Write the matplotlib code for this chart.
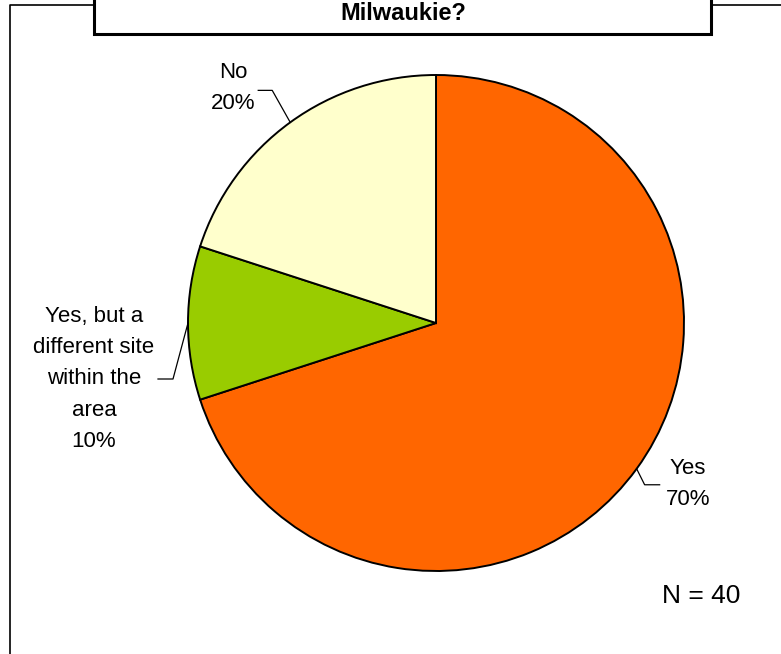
import numpy as np
import matplotlib.pyplot as plt
from matplotlib.patches import Rectangle

plt.rcParams['font.family'] = ['Liberation Sans', 'DejaVu Sans']

labels = ["Yes", "Yes, but a\ndifferent site\nwithin the\narea", "No"]
shares = [70, 10, 20]
colors = ["#FF6600", "#99CC00", "#FFFFCC"]
title = "Milwaukie?"
n_note = "N = 40"

W, H = 781, 654


def main():
    fig = plt.figure(figsize=(W / 100, H / 100), dpi=100)
    ax = fig.add_axes([0, 0, 1, 1])

    cx, cy, r = 436, H - 323, 248
    wedges, _ = ax.pie(shares, colors=colors, startangle=90, counterclock=False,
                       center=(cx, cy), radius=r, frame=True,
                       wedgeprops=dict(edgecolor="black", linewidth=1.4))
    ax.set_xlim(0, W)
    ax.set_ylim(0, H)
    ax.set_aspect("equal")
    ax.axis("off")

    # label placement: elbow offset, line end offset, text centre (pixels, y down)
    layout = [
        dict(elbow=(8, -16), end=(23, -16), text=(688, 484)),
        dict(elbow=(-15, -56), end=(-30, -56), text=(94, 379)),
        dict(elbow=(-18, 32), end=(-32, 32), text=(233, 88)),
    ]
    for w, lab, pct, lo in zip(wedges, labels, shares, layout):
        mid = np.deg2rad((w.theta1 + w.theta2) / 2)
        ex, ey = cx + r * np.cos(mid), cy + r * np.sin(mid)
        bx, by = ex + lo["elbow"][0], ey + lo["elbow"][1]
        fx, fy = ex + lo["end"][0], ey + lo["end"][1]
        ax.plot([ex, bx, fx], [ey, by, fy], color="black", lw=0.9)
        tx, ty = lo["text"]
        ax.text(tx, H - ty, f"{lab}\n{pct}%", ha="center", va="center",
                fontsize=16, linespacing=1.65)

    ax.text(701, H - 596, n_note, ha="center", va="center", fontsize=19)

    # chart area border and title box
    ax.plot([10, 10, 94], [0, H - 5, H - 5], color="black", lw=1.2)
    ax.plot([711, W], [H - 5, H - 5], color="black", lw=1.2)
    ax.add_patch(Rectangle((94, H - 34), 617, 60, facecolor="white",
                           edgecolor="black", lw=2.2))
    ax.text(403, H - 20, title, ha="center", va="baseline",
            fontsize=17, fontweight="bold")

    fig.savefig("out.png", dpi=100)


if __name__ == "__main__":
    main()
